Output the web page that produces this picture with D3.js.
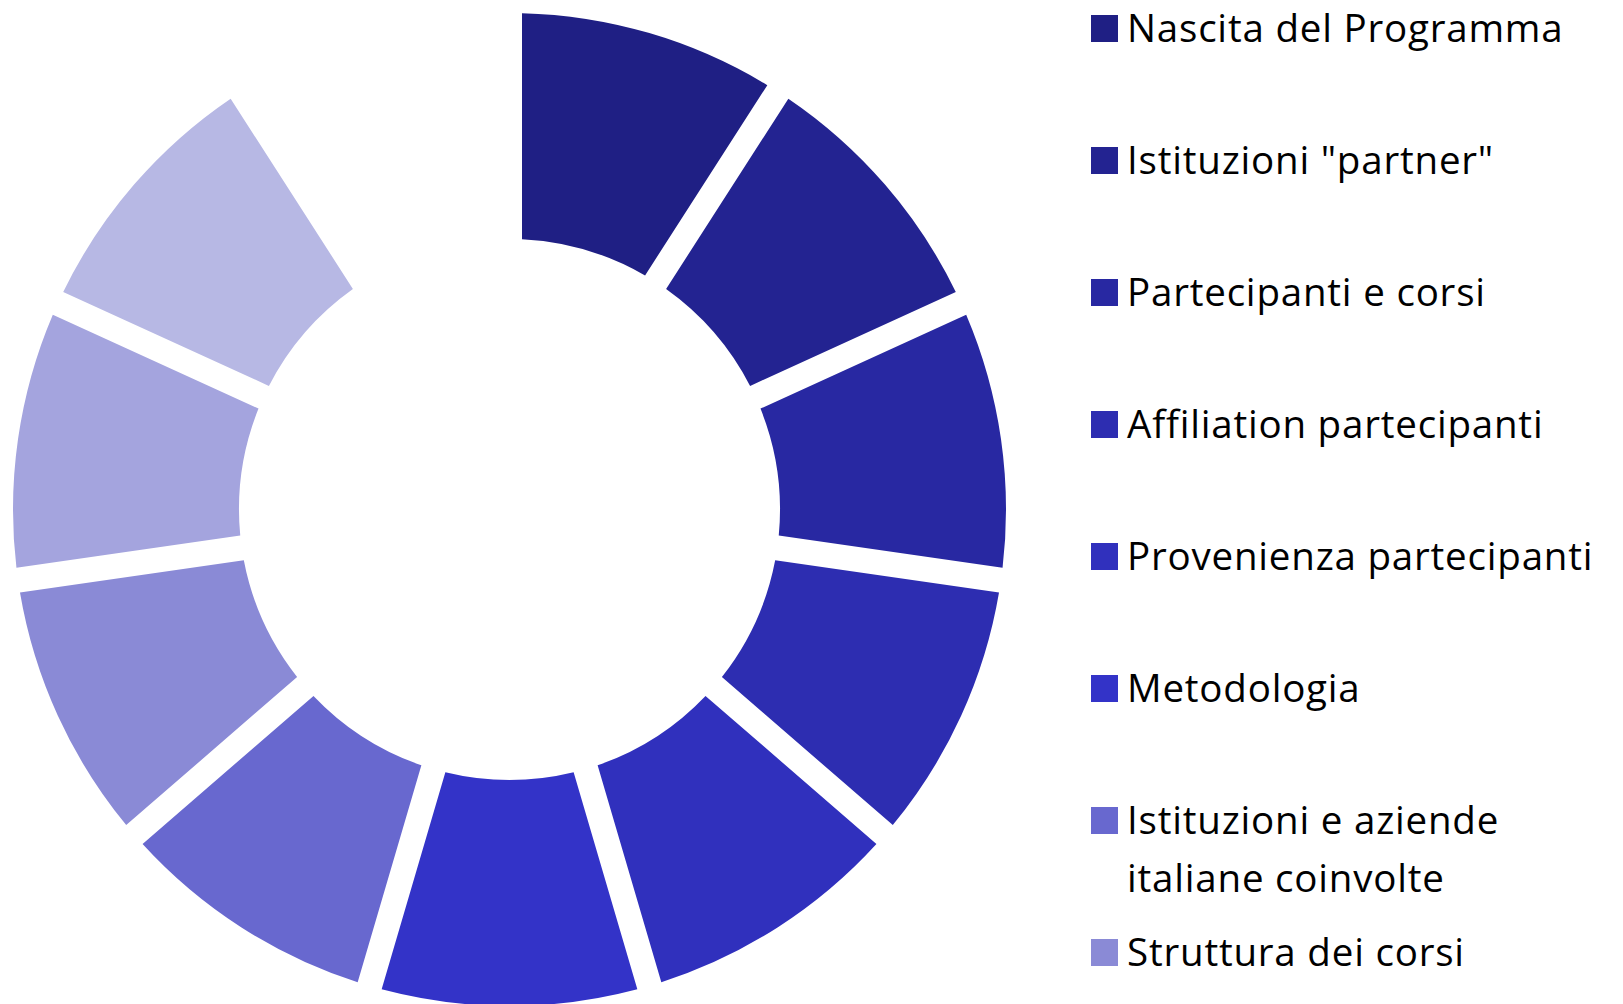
<!DOCTYPE html>
<html>
<head>
<meta charset="utf-8">
<script src="https://cdn.jsdelivr.net/npm/d3@7/dist/d3.min.js"></script>
<style>
  html, body { margin: 0; padding: 0; background: #ffffff; overflow: hidden; }
  svg { display: block; }
  .legend text { font-family: "Open Sans", Lato, sans-serif; fill: #000000; letter-spacing: 0.8px; }
</style>
</head>
<body>
<svg id="chart" width="1623" height="1004"></svg>
<script>
// ---- data ----
const categories = [
  "Nascita del Programma",
  "Istituzioni \"partner\"",
  "Partecipanti e corsi",
  "Affiliation partecipanti",
  "Provenienza partecipanti",
  "Metodologia",
  "Istituzioni e aziende italiane coinvolte",
  "Struttura dei corsi",
  null,
  null,
  null
];
const values = [1, 1, 1, 1, 1, 1, 1, 1, 1, 1, 1];
const colors = [
  "#1f1f84", "#232391", "#2828a2", "#2d2db1", "#3030bd", "#3333c8",
  "#6868cf", "#8a8ad6", "#a4a4de", "#b7b8e4", "none"
];
const legendLines = [
  ["Nascita del Programma"],
  ["Istituzioni \"partner\""],
  ["Partecipanti e corsi"],
  ["Affiliation partecipanti"],
  ["Provenienza partecipanti"],
  ["Metodologia"],
  ["Istituzioni e aziende", "italiane coinvolte"],
  ["Struttura dei corsi"]
];

// ---- layout ----
const W = 1623, H = 1004;
const cx = 509.5, cy = 509.5;
const outerR = 496.5, innerR = 270.5;
const gap = 25;
const padA = 2 * Math.asin((gap / 2) / outerR);

const svg = d3.select("#chart");

const data = values.map((v, i) => ({ v, i, name: categories[i], color: colors[i] }));

const pie = d3.pie()
  .sort(null)
  .value(d => d.v)
  .startAngle(0)
  .endAngle(2 * Math.PI)
  .padAngle(padA);

const arc = d3.arc()
  .innerRadius(innerR)
  .outerRadius(outerR)
  .padRadius(outerR);

const g = svg.append("g").attr("transform", `translate(${cx},${cy})`);
g.selectAll("path.slice")
  .data(pie(data))
  .join("path")
  .attr("class", "slice")
  .attr("d", arc)
  .attr("fill", d => d.data.color);

// ---- legend ----
const lx = 1091, ly = 15, sw = 27, step = 132;
const fontSize = 38.5, lineH = 58;
const legend = svg.append("g").attr("class", "legend");
const items = legend.selectAll("g.item")
  .data(legendLines.map((lines, i) => ({ lines, i, color: colors[i] })))
  .join("g")
  .attr("class", "item")
  .attr("transform", d => `translate(${lx},${ly + d.i * step})`);
items.append("rect")
  .attr("width", sw).attr("height", sw)
  .attr("fill", d => d.color);
items.each(function(d) {
  const t = d3.select(this).append("text")
    .attr("x", 36)
    .attr("y", sw)
    .style("font-size", fontSize + "px");
  d.lines.forEach((ln, k) => {
    t.append("tspan").attr("x", 36).attr("y", sw + k * lineH).text(ln);
  });
});
</script>
</body>
</html>
